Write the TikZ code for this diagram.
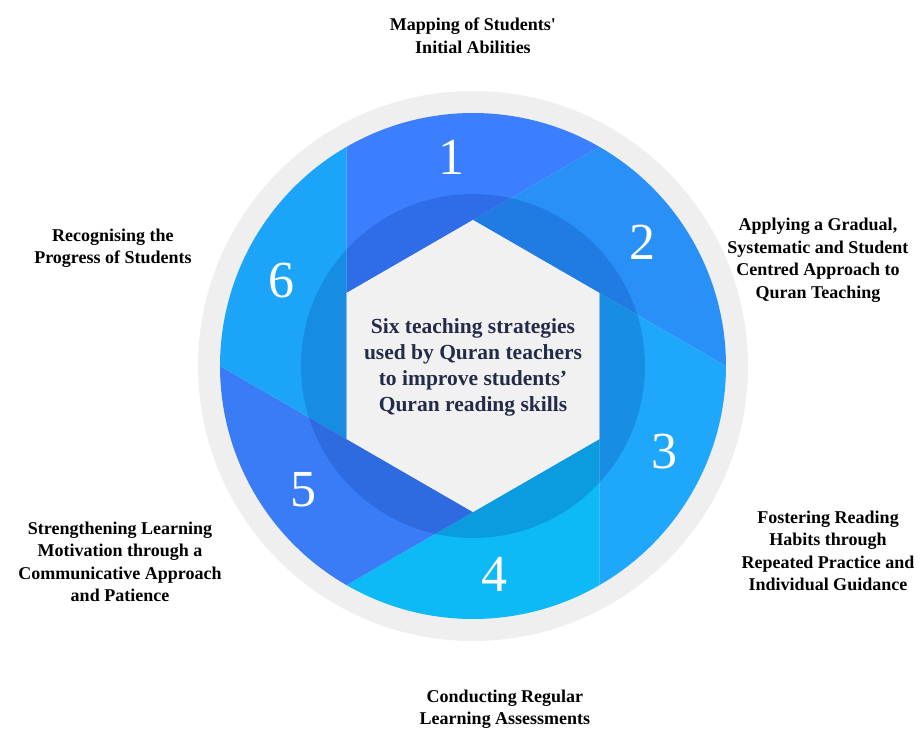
\documentclass[tikz,border=0pt]{standalone}
\usepackage{fontspec}
\setmainfont{Liberation Serif}
\usepackage{tikz}

\definecolor{ringgray}{RGB}{239,239,239}
\definecolor{hexgray}{RGB}{241,241,242}
\definecolor{hubtext}{RGB}{35,43,72}
\definecolor{hubshade}{RGB}{0,40,140}
\definecolor{segA}{RGB}{59,127,255}
\definecolor{segB}{RGB}{41,144,248}
\definecolor{segC}{RGB}{30,167,251}
\definecolor{segD}{RGB}{14,186,245}
\definecolor{segE}{RGB}{58,124,246}
\definecolor{segF}{RGB}{28,165,248}

\begin{document}
\begin{tikzpicture}[
   x=1pt,y=1pt,
   caption/.style={font=\bfseries\fontsize{18}{22.5}\selectfont,align=center,text=black},
   num/.style={font=\fontsize{52}{52}\selectfont,text=white,inner sep=0pt},
   hub/.style={font=\bfseries\fontsize{21.5}{26}\selectfont,align=center,text=hubtext}]
\useasboundingbox (-473,-363) rectangle (449,366);
\fill[ringgray] (0,0) circle (275);
% six shutter blades
\foreach \k/\c in {1/segA,2/segB,3/segC,4/segD,5/segE,6/segF}{
  \pgfmathsetmacro{\a}{-60*(\k-1)}
  \fill[\c] (150+\a:146) -- (90+\a:146) -- (60+\a:253)
     arc[start angle=60+\a, end angle=120+\a, radius=253] -- cycle;
}
\fill[hubshade,opacity=.2] (0,0) circle (172);
\fill[hexgray] (90:146) -- (150:146) -- (210:146) -- (270:146) -- (330:146) -- (30:146) -- cycle;
\foreach \k in {1,...,6}
  \node[num] (n\k) at (96-60*\k+60:210) {\k};
\node[hub] (hub) at (0,-1) {Six teaching strategies\\used by Quran teachers\\to improve students’\\Quran reading skills};
% captions
\node[caption] (c1) at (0,330) {Mapping of Students\textquotesingle\\Initial Abilities};
\node[caption] (c2) at (345,106) {Applying a Gradual,\\Systematic and Student\\Centred Approach to\\Quran Teaching};
\node[caption] (c3) at (355,-185) {Fostering Reading\\Habits through\\Repeated Practice and\\Individual Guidance};
\node[caption] (c4) at (32,-343) {Conducting Regular\\Learning Assessments};
\node[caption] (c5) at (-353,-196) {Strengthening Learning\\Motivation through a\\Communicative Approach\\and Patience};
\node[caption] (c6) at (-360,118) {Recognising the\\Progress of Students};
\end{tikzpicture}
\end{document}
